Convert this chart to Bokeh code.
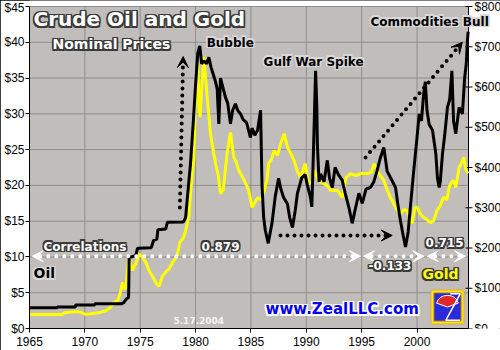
from bokeh.plotting import figure
from bokeh.models import (Range1d, SingleIntervalTicker, FixedTicker, PrintfTickFormatter,
                          Label, Arrow, VeeHead, BoxAnnotation)
from bokeh.core.properties import value
from bokeh.embed import file_html
from bokeh.resources import INLINE

# ---------------- data ----------------
oil_years = [1965.0, 1967.5, 1967.5, 1969.15, 1969.15, 1970.9, 1970.9, 1973.3, 1973.5, 1973.8,
             1973.95, 1974.0, 1974.6, 1974.75, 1976.0, 1976.2, 1976.5, 1976.6, 1977.3, 1977.45,
             1978.9, 1979.1, 1979.3, 1979.54, 1979.8, 1980.0, 1980.2, 1980.38, 1980.55, 1980.75,
             1981.0, 1981.2, 1981.4, 1981.6, 1981.8, 1981.95, 1982.1, 1982.25, 1982.45, 1982.7,
             1982.9, 1983.15, 1983.35, 1983.6, 1983.8, 1984.06, 1984.3, 1984.6, 1984.95, 1985.1,
             1985.35, 1985.6, 1985.87, 1986.0, 1986.15, 1986.3, 1986.56, 1986.75, 1986.9, 1987.2,
             1987.5, 1987.7, 1987.95, 1988.3, 1988.5, 1988.75, 1989.0, 1989.2, 1989.6, 1989.9,
             1990.1, 1990.35, 1990.5, 1990.65, 1990.84, 1990.95, 1991.0, 1991.15, 1991.3, 1991.6,
             1991.9, 1992.1, 1992.35, 1992.6, 1992.9, 1993.25, 1993.5, 1993.85, 1994.15, 1994.4,
             1994.75, 1995.05, 1995.4, 1995.8, 1996.1, 1996.4, 1996.7, 1997.0, 1997.3, 1997.6,
             1998.06, 1998.3, 1998.5, 1998.75, 1998.96, 1999.2, 1999.4, 1999.7, 2000.0, 2000.2,
             2000.4, 2000.6, 2000.75, 2000.9, 2001.1, 2001.4, 2001.7, 2001.85, 2002.0, 2002.1,
             2002.3, 2002.5, 2002.75, 2002.95, 2003.15, 2003.3, 2003.5, 2003.8, 2004.1, 2004.3,
             2004.45, 2004.55, 2004.62]
oil_prices = [2.9, 2.9, 3.0, 3.0, 3.3, 3.3, 3.45, 3.45, 3.6, 4.2,
              4.3, 9.9, 10.2, 11.2, 11.3, 12.3, 12.5, 13.8, 13.9, 14.85,
              14.9, 15.5, 19.0, 23.0, 29.0, 34.0, 38.5, 39.5, 37.0, 37.4,
              37.0, 37.9, 36.5, 35.5, 34.5, 33.5, 28.6, 35.0, 33.8, 32.3,
              31.5, 28.6, 30.5, 31.4, 30.5, 30.0, 29.2, 28.8, 26.7, 28.0,
              27.0, 27.7, 30.5, 20.0, 15.5, 13.7, 11.9, 13.5, 14.7, 18.5,
              21.0, 19.5, 18.3, 17.4, 15.5, 14.1, 16.5, 18.9, 21.1, 21.5,
              20.0, 18.5, 17.0, 25.0, 36.0, 31.0, 25.8, 20.5, 21.6, 20.5,
              23.5, 21.0, 19.7, 22.5, 21.5, 20.7, 19.0, 16.9, 14.7, 16.5,
              18.9, 17.5, 19.5, 19.7, 20.5, 22.1, 23.9, 25.3, 22.0, 21.1,
              19.7, 17.0, 15.1, 13.0, 11.4, 13.5, 17.0, 22.0, 26.7, 30.0,
              29.0, 32.8, 34.5, 30.5, 28.5, 27.7, 24.4, 21.0, 19.7, 20.5,
              24.4, 27.0, 30.9, 32.0, 36.0, 29.0, 27.2, 30.9, 30.0, 35.0,
              37.0, 40.2, 41.5]

gold_years = [1965.0, 1967.9, 1968.2, 1968.8, 1969.3, 1969.7, 1970.0, 1970.4, 1970.9, 1971.4,
              1971.9, 1972.3, 1972.5, 1972.8, 1973.0, 1973.2, 1973.4, 1973.5, 1973.7, 1973.97,
              1974.3, 1974.45, 1974.6, 1974.9, 1975.2, 1975.5, 1975.8, 1976.1, 1976.5, 1976.7,
              1977.0, 1977.3, 1977.6, 1978.0, 1978.3, 1978.6, 1978.9, 1979.1, 1979.4, 1979.55,
              1979.7, 1979.85, 1980.0, 1980.2, 1980.3, 1980.4, 1980.6, 1980.75, 1981.05, 1981.35,
              1981.55, 1981.8, 1982.05, 1982.25, 1982.5, 1982.85, 1983.15, 1983.45, 1983.65, 1983.9,
              1984.15, 1984.4, 1984.8, 1985.1, 1985.4, 1985.6, 1985.9, 1986.2, 1986.45, 1986.6,
              1986.85, 1987.1, 1987.4, 1987.7, 1988.0, 1988.3, 1988.6, 1988.9, 1989.2, 1989.5,
              1989.9, 1990.2, 1990.5, 1990.7, 1991.1, 1991.6, 1991.9, 1992.2, 1992.8, 1993.25,
              1993.6, 1994.0, 1994.5, 1994.9, 1995.5, 1995.9, 1996.1, 1996.3, 1996.55, 1997.0,
              1997.3, 1997.6, 1997.9, 1998.2, 1998.5, 1998.8, 1999.1, 1999.55, 1999.8, 2000.0,
              2000.3, 2000.6, 2000.9, 2001.2, 2001.5, 2001.8, 2002.1, 2002.4, 2002.7, 2002.9,
              2003.1, 2003.3, 2003.5, 2003.8, 2004.0, 2004.25, 2004.4, 2004.6]
gold_prices = [35, 35, 39, 41, 42, 40, 35.5, 36, 38, 40,
               44, 52, 62, 68, 70, 90, 115, 100, 100, 173,
               144, 155, 161, 185, 177, 165, 144, 130, 110, 105,
               130, 140, 148, 168, 178, 215, 225, 243, 280, 340,
               385, 420, 575, 660, 560, 525, 616, 674, 575, 484,
               450, 410, 380, 335, 345, 435, 487, 425, 415, 393,
               380, 368, 343, 301, 315, 325, 320, 343, 370, 410,
               420, 442, 430, 460, 484, 450, 435, 417, 390, 375,
               410, 360, 365, 393, 368, 360, 355, 343, 343, 326,
               375, 385, 380, 385, 385, 388, 409, 400, 385, 368,
               345, 325, 310, 295, 285, 295, 293, 261, 300, 301,
               285, 276, 270, 263, 268, 293, 305, 326, 320, 351,
               362, 368, 350, 400, 410, 425, 395, 385]

year_ticks = [1965, 1970, 1975, 1980, 1985, 1990, 1995, 2000]
oil_ticks = [0, 5, 10, 15, 20, 25, 30, 35, 40, 45]
gold_ticks = [0, 100, 200, 300, 400, 500, 600, 700, 800]
gold_tick_labels = ["$%d" % g for g in gold_ticks]
correlation_labels = ["0.879", "-0.133", "0.715"]

X_START, X_END = 1965.0, 2004.65      # plotted period
OIL_MAX, GOLD_MAX = 45, 800

# ---------------- figure ----------------
W, H = 500, 350
LEFT, RIGHT_AXIS_PX, TOP_PX, BOTTOM = 29, 468, 6, 22
px_per_year = (RIGHT_AXIS_PX - LEFT) / (X_END - X_START)
x_canvas_end = X_START + (W - LEFT) / px_per_year
px_per_dollar = (H - BOTTOM - TOP_PX) / OIL_MAX
y_canvas_top = (H - BOTTOM) / px_per_dollar

p = figure(width=W, height=H, output_backend="svg", toolbar_location=None,
           x_range=Range1d(X_START, x_canvas_end), y_range=Range1d(0, y_canvas_top),
           min_border_left=LEFT, min_border_right=0, min_border_top=0, min_border_bottom=BOTTOM,
           background_fill_color="white", border_fill_color="white",
           outline_line_color=None,
           styles={"outline": "1px solid black", "outline-offset": "-1px"})
p.extra_y_ranges = {"gold": Range1d(0, GOLD_MAX * y_canvas_top / OIL_MAX)}
p.grid.visible = False

# grey plotting area
p.add_layout(BoxAnnotation(left=X_START, right=X_END, bottom=0, top=OIL_MAX,
                           fill_color="#C1BDBB", fill_alpha=1, line_color=None, level="underlay"))

# grid lines
p.segment(x0=year_ticks[1:], x1=year_ticks[1:], y0=0, y1=OIL_MAX, line_color="#8E8E8E", line_width=1)
p.segment(x0=X_START, x1=X_END, y0=oil_ticks[1:], y1=oil_ticks[1:], line_color="#8E8E8E", line_width=1)

# bottom and left axes
p.xaxis.ticker = FixedTicker(ticks=year_ticks)
p.xaxis.bounds = (X_START, X_END)
p.yaxis.ticker = FixedTicker(ticks=oil_ticks)
p.yaxis.bounds = (0, OIL_MAX)
p.yaxis.formatter = PrintfTickFormatter(format="$%d")
for ax in [p.xaxis[0], p.yaxis[0]]:
    ax.axis_line_color = "black"
    ax.major_tick_line_color = "black"
    ax.minor_tick_line_color = None
    ax.major_label_text_font = "Liberation Sans"
    ax.major_label_text_font_size = "12px"
    ax.major_label_text_color = "black"
    ax.major_tick_out = 4
    ax.major_tick_in = 0
p.xaxis.major_label_standoff = 4
p.yaxis.major_label_standoff = 1

# right (gold) axis
p.segment(x0=X_END, x1=X_END, y0=0, y1=GOLD_MAX, y_range_name="gold", line_color="black", line_width=1)
p.segment(x0=X_END - 3 / px_per_year, x1=X_END + 4 / px_per_year, y0=gold_ticks, y1=gold_ticks,
          y_range_name="gold", line_color="black", line_width=1)
p.text(x=X_END, y=gold_ticks, text=gold_tick_labels, y_range_name="gold", x_offset=6,
       text_baseline="middle", text_align="left", text_font=value("Liberation Sans"),
       text_font_size="12px", text_color="black")

# ---------------- series ----------------
p.line(gold_years, gold_prices, y_range_name="gold", line_color="#FFFF00", line_width=3)
p.line(oil_years, oil_prices, line_color="black", line_width=3)

# ---------------- arrows ----------------
def dotted_arrow(x0, y0, x1, y1, color, both=False, spacing="0 7", size=11):
    head = lambda: VeeHead(size=size, fill_color=color, line_color=color)
    p.add_layout(Arrow(x_start=x0, y_start=y0, x_end=x1, y_end=y1,
                       line_color=color, line_width=4, line_dash=spacing, line_cap="round",
                       end=head(), start=head() if both else None))

dotted_arrow(1978.58, 16.9, 1978.88, 38.0, "black")
dotted_arrow(1995.35, 23.9, 2004.09, 40.0, "black")
dotted_arrow(1987.67, 13.0, 1997.76, 13.0, "black")

corr_y = 10.1
dotted_arrow(1965.25, corr_y, 1994.9, corr_y, "white", both=True, spacing="0 8")
dotted_arrow(1995.17, corr_y, 2000.62, corr_y, "white", both=True, spacing="0 8")
dotted_arrow(2000.93, corr_y, 2004.39, corr_y, "white", both=True, spacing="0 8")

# ---------------- logo ----------------
p.quad(left=2001.4, right=2004.11, bottom=0.84, top=5.17, fill_color="#2A2AD8",
       line_color="#FF9A00", line_width=4, line_alpha=0.6)
p.quad(left=2001.4, right=2004.11, bottom=0.84, top=5.17, fill_color=None,
       line_color="#FFE800", line_width=2)
p.annular_wedge(x=2002.75, y=3.0, inner_radius=0, outer_radius=1.05,
                start_angle=0.35, end_angle=2.8, fill_color="#E02828", line_color="white",
                line_width=1)
p.line([2003.0, 2003.9, 2002.6, 2003.9], [4.85, 4.85, 1.15, 1.15], line_color="white", line_width=1.5)

# ---------------- labels ----------------
def label(x, y, text, size, color, outline, r=1.5, font="DejaVu Sans", style="bold"):
    common = dict(x=x, y=y, text=text, text_font=font, text_font_size=size,
                  text_font_style=style, text_baseline="middle", text_align="left")
    if outline:
        for dx, dy in [(-r, 0), (r, 0), (0, -r), (0, r), (-r, -r), (r, r), (-r, r), (r, -r)]:
            p.add_layout(Label(x_offset=dx, y_offset=dy, text_color=outline, **common))
    p.add_layout(Label(text_color=color, **common))

DARK, LIGHT = "#3A3A3A", "#D8D8D8"
label(1965.36, 43.2, "Crude Oil and Gold", "20px", "white", DARK)
label(1967.08, 39.75, "Nominal Prices", "14px", "white", DARK)
label(1981.0, 39.9, "Bubble", "12px", "black", LIGHT)
label(1986.14, 37.3, "Gulf War Spike", "12px", "black", LIGHT)
label(1995.8, 42.9, "Commodities Bull", "12px", "black", LIGHT)
label(1966.26, 11.4, "Correlations", "12px", "white", DARK)
label(1980.54, 11.46, correlation_labels[0], "12px", "white", DARK)
label(1995.62, 8.8, correlation_labels[1], "12px", "white", DARK)
label(2000.77, 12.0, correlation_labels[2], "12px", "white", DARK)
label(1965.36, 7.69, "Oil", "14px", "black", LIGHT)
label(2000.5, 7.55, "Gold", "14px", "#FFFF00", DARK)
label(1978.0, 1.05, "5.17.2004", "9px", "#F4F4F4", None)
label(1986.32, 2.66, "www.ZealLLC.com", "15px", "#0000F0", "white")

open("out.html", "w").write(file_html(p, INLINE))
